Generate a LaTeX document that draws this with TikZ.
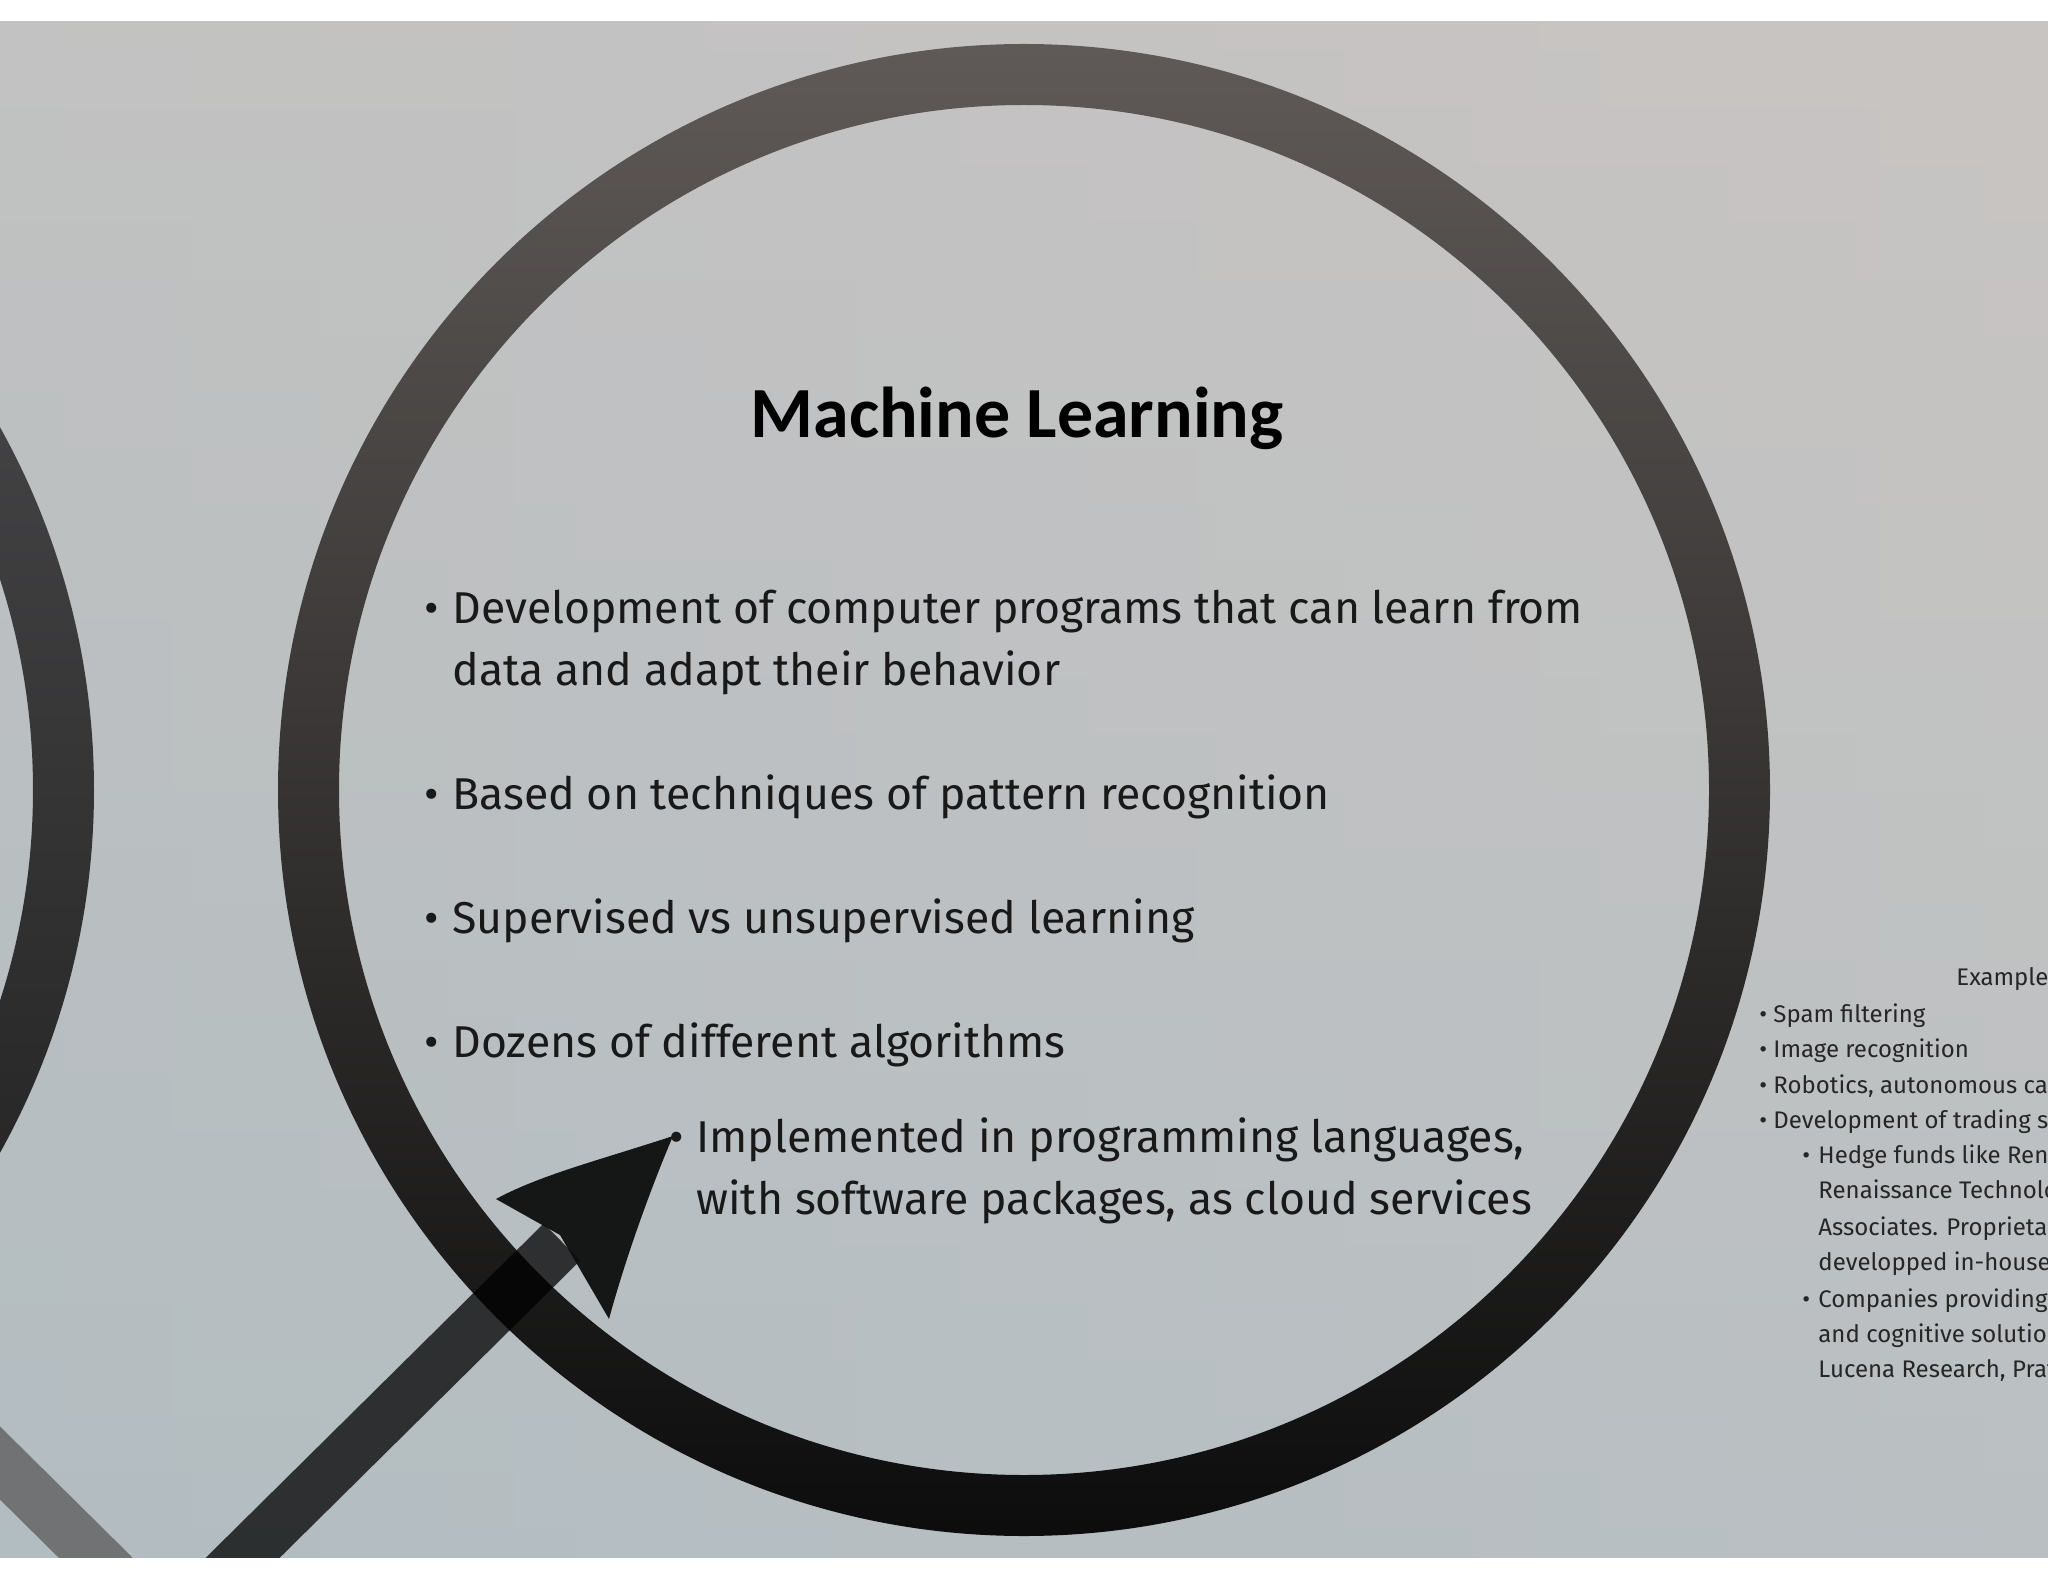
\documentclass[tikz,border=0pt]{standalone}
\usepackage{fontspec}
\usetikzlibrary{calc}
\setmainfont{Fira Sans}
\newfontfamily\titlefont{Carlito}
\begin{document}
\begin{tikzpicture}[x=0.5pt,y=-0.5pt,
  bul/.style={anchor=base west,font=\fontsize{22.3}{28}\selectfont\addfontfeatures{Weight=Light}, text=black!90, inner sep=0},
  sml/.style={anchor=base west,font=\fontsize{12}{15}\selectfont, text=black!85, inner sep=0}]
\useasboundingbox (0,0) rectangle (2048,1582);
\fill[white] (0,0) rectangle (2048,1582);
\begin{scope}
\clip (0,22) rectangle (2048,1557);
\shade[left color={rgb,255:red,180;green,188;blue,196}, right color={rgb,255:red,196;green,194;blue,198}] (0,22) rectangle (2048,1557);
\shade[top color={rgb,255:red,205;green,199;blue,192}, bottom color={rgb,255:red,178;green,190;blue,192}, opacity=0.55] (0,22) rectangle (2048,1557);
% left circle
\path[even odd rule, top color={rgb,255:red,80;green,80;blue,82}, bottom color=black!90]
  (-652,790) circle (746) (-652,790) circle (685);
% main ring
\path[even odd rule, top color={rgb,255:red,95;green,90;blue,88}, bottom color=black!95]
  (1024,790) circle (746) (1024,790) circle (685);
% lines
\coordinate (la) at (0,1463); \coordinate (lb) at (95,1557);
\draw[line width=26pt, black!60, opacity=0.85] ($(la)!-1!(lb)$) -- ($(lb)!-0.2!(la)$);
\coordinate (s0) at (200,1600); \coordinate (tip) at (673,1136);
\draw[line width=26pt, black, opacity=0.75] (s0) -- (562,1242);
\fill[black!95, opacity=0.95] (tip) .. controls (600,1160) and (540,1175) .. (496,1199)
  -- (560,1235) -- (609,1319) .. controls (625,1260) and (650,1190) .. (tip) -- cycle;
% texts
\node[font=\titlefont\bfseries\fontsize{36}{44}\selectfont] (title) at (1017,418) {Machine Learning};
\foreach \y/\t in {623/{Development of computer programs that can learn from},809/{Based on techniques of pattern recognition},933/{Supervised vs unsupervised learning},1057/{Dozens of different algorithms}}
  {\node[bul] at (424,\y) {•}; \node[bul] at (452,\y) {\t};}
\node[bul] at (452,685) {data and adapt their behavior};
\node[bul] at (669,1152) {•};
\node[bul] at (696,1152) {Implemented in programming languages,};
\node[bul] at (696,1214) {with software packages, as cloud services};
\node[sml] at (1956,985) {Examples};
\foreach \y/\t in {1022/{Spam filtering},1057/{Image recognition},1093/{Robotics, autonomous cars},1128/{Development of trading systems}}
  {\node[sml] at (1759,\y) {•}; \node[sml] at (1773,\y) {\t};}
\node[sml] at (1802,1163) {•};
\node[sml] at (1802,1307) {•};
\foreach \y/\t in {1163/{Hedge funds like Renaissance},1198/{Renaissance Technologies, Two Sigma,},1235/{Associates. Proprietary systems},1270/{developped in-house},1307/{Companies providing analytics},1342/{and cognitive solutions, e.g.},1377/{Lucena Research, Prattle}}
  {\node[sml] at (1818,\y) {\t};}
\end{scope}
\end{tikzpicture}
\end{document}
